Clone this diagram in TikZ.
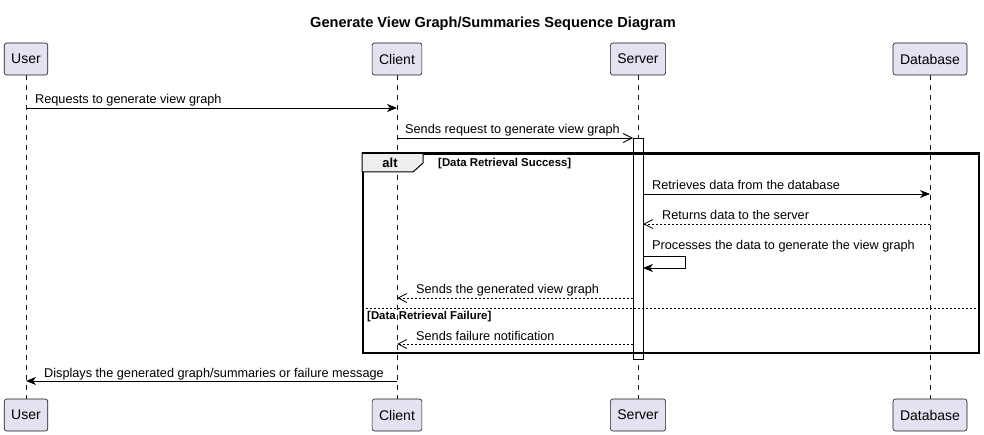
\documentclass[tikz,border=0pt]{standalone}
\usepackage{fontspec}
\setmainfont{Liberation Sans}
\usetikzlibrary{arrows.meta,positioning}
\definecolor{partfill}{HTML}{E2E2F0}
\definecolor{partdraw}{HTML}{181818}
\definecolor{tabfill}{HTML}{EEEEEE}
\tikzset{
  part/.style={draw=partdraw, fill=partfill, rounded corners=2.5pt, line width=0.6pt,
    minimum height=32pt, inner xsep=7pt, inner ysep=0pt, font=\fontsize{14}{16}\selectfont, text=black},
  lifeline/.style={draw=partdraw, line width=0.6pt, dash pattern=on 5pt off 5pt},
  syncmsg/.style={draw=black, line width=0.8pt, -{Stealth[length=10pt,width=8pt,inset=3pt]}},
  openmsg/.style={draw=black, line width=0.8pt, -{Straight Barb[length=9pt,width=9pt,line width=0.8pt]}},
  retmsg/.style={draw=black, line width=0.8pt, dash pattern=on 2pt off 2pt, -{Straight Barb[length=9pt,width=9pt,line width=0.8pt]}},
  msglabel/.style={anchor=base west, inner sep=0pt, font=\fontsize{12.7}{15}\selectfont},
  guard/.style={anchor=base west, inner sep=0pt, font=\fontsize{11.4}{13}\selectfont\bfseries},
}
\begin{document}
\begin{tikzpicture}[x=1pt,y=-1pt]
\useasboundingbox (0,0) rectangle (984,435);
% title
\node[font=\fontsize{14.6}{16}\selectfont\bfseries] (title) at (493,24) {Generate View Graph/Summaries Sequence Diagram};
% lifelines (drawn first)
\coordinate (uT) at (26,75); \coordinate (uB) at (26,399);
\coordinate (cT) at (397,75); \coordinate (cB) at (397,399);
\coordinate (sT) at (638,75); \coordinate (sB) at (638,399);
\coordinate (dT) at (930,75); \coordinate (dB) at (930,399);
\draw[lifeline] (uT) -- (uB);
\draw[lifeline] (cT) -- (cB);
\draw[lifeline] (sT) -- (sB);
\draw[lifeline] (dT) -- (dB);
% participants
\node[part] (user1) at (26,59) {User};
\node[part] (client1) at (397,59) {Client};
\node[part] (server1) at (638,59) {Server};
\node[part] (db1) at (930,59) {Database};
\node[part] (user2) at (26,415) {User};
\node[part] (client2) at (397,415) {Client};
\node[part] (server2) at (638,415) {Server};
\node[part] (db2) at (930,415) {Database};
% activation bar
\node[draw=black, fill=white, line width=0.8pt, minimum width=10pt, minimum height=221pt, inner sep=0pt, anchor=north] (bar) at (638,138) {};
% alt frame
\node[draw=black, line width=1.6pt, minimum width=616pt, minimum height=199pt, inner sep=0pt, anchor=north west] (frame) at (362,153) {};
\draw[fill=tabfill, draw=black, line width=1pt] (362,153) -- (423,153) -- (423,163) -- (413,172) -- (362,172) -- cycle;
\draw[line width=1.6pt] (frame.north west) -- (frame.north east);
\node[font=\fontsize{13}{15}\selectfont\bfseries, inner sep=0pt] (altlbl) at (390,162.5) {alt};
\node[guard] (g1) at (438,166.5) {[Data Retrieval Success]};
\coordinate (sepL) at (362,308); \coordinate (sepR) at (978,308);
\draw[line width=0.8pt, dash pattern=on 2pt off 2pt] (sepL) -- (sepR);
\node[guard] (g2) at (367,319) {[Data Retrieval Failure]};
% message endpoints
\coordinate (m1s) at (26,108); \coordinate (m1e) at (397,108);
\coordinate (m2s) at (397,138); \coordinate (m2e) at (633,138);
\coordinate (m3s) at (643,194); \coordinate (m3e) at (930,194);
\coordinate (m4s) at (930,224); \coordinate (m4e) at (643,224);
\coordinate (m5s) at (643,256); \coordinate (m5a) at (685,256); \coordinate (m5b) at (685,268); \coordinate (m5e) at (643,268);
\coordinate (m6s) at (633,298); \coordinate (m6e) at (397,298);
\coordinate (m7s) at (633,344); \coordinate (m7e) at (397,344);
\coordinate (m8s) at (397,381); \coordinate (m8e) at (26,381);
% messages
\draw[syncmsg] (m1s) -- (m1e);
\node[msglabel] (l1) at (35,104) {Requests to generate view graph};
\draw[openmsg] (m2s) -- (m2e);
\node[msglabel] (l2) at (405,134) {Sends request to generate view graph};
\draw[syncmsg] (m3s) -- (m3e);
\node[msglabel] (l3) at (652,190) {Retrieves data from the database};
\draw[retmsg] (m4s) -- (m4e);
\node[msglabel] (l4) at (662,220) {Returns data to the server};
\draw[syncmsg] (m5s) -- (m5a) -- (m5b) -- (m5e);
\node[msglabel] (l5) at (652,250) {Processes the data to generate the view graph};
\draw[retmsg] (m6s) -- (m6e);
\node[msglabel] (l6) at (416,294) {Sends the generated view graph};
\draw[retmsg] (m7s) -- (m7e);
\node[msglabel] (l7) at (416,340) {Sends failure notification};
\draw[syncmsg] (m8s) -- (m8e);
\node[msglabel] (l8) at (44,377) {Displays the generated graph/summaries or failure message};
\end{tikzpicture}
\end{document}
